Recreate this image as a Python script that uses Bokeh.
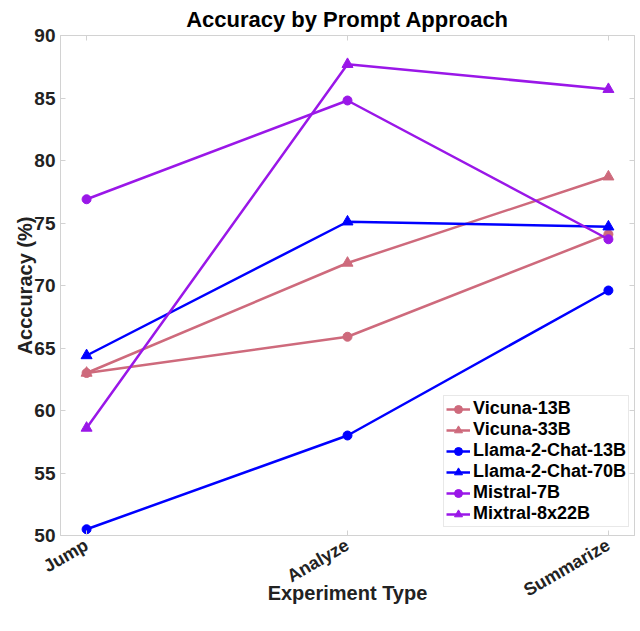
import math
from bokeh.plotting import figure
from bokeh.models import Range1d, FixedTicker, LinearAxis
from bokeh.embed import file_html
from bokeh.resources import INLINE

# ---- data ----
categories = ["Jump", "Analyze", "Summarize"]
y_ticks = [50, 55, 60, 65, 70, 75, 80, 85, 90]

vicuna_13b = [63.0, 65.9, 74.1]
vicuna_33b = [63.0, 71.8, 78.7]
llama_13b = [50.5, 58.0, 69.6]
llama_70b = [64.4, 75.1, 74.7]
mistral_7b = [76.9, 84.8, 73.7]
mixtral_8x22b = [58.6, 87.7, 85.7]

series_names = ["Vicuna-13B", "Vicuna-33B", "Llama-2-Chat-13B",
                "Llama-2-Chat-70B", "Mistral-7B", "Mixtral-8x22B"]
series_values = [vicuna_13b, vicuna_33b, llama_13b, llama_70b, mistral_7b, mixtral_8x22b]
series_colors = ["#CE6A7C", "#CE6A7C", "#0000FF", "#0000FF", "#9A17E8", "#9A17E8"]
series_markers = ["circle", "triangle", "circle", "triangle", "circle", "triangle"]

FONT = "Liberation Sans"
FRAME = "#d2d2d2"

x_idx = list(range(len(categories)))

p = figure(width=640, height=631, output_backend="svg", toolbar_location=None,
           x_range=Range1d(-0.1, 2.1), y_range=Range1d(50, 90),
           min_border_left=60, min_border_right=6, min_border_top=35, min_border_bottom=96,
           title="Accuracy by Prompt Approach")

p.title.align = "center"
p.title.text_font = FONT
p.title.text_font_style = "bold"
p.title.text_font_size = "22px"
p.title.text_color = "#000000"
p.title.standoff = 7

p.xgrid.visible = False
p.ygrid.visible = False
p.outline_line_color = FRAME
p.background_fill_color = "white"
p.border_fill_color = "white"

# x axis
p.xaxis.ticker = FixedTicker(ticks=x_idx)
p.xaxis.major_label_overrides = {i: c for i, c in zip(x_idx, categories)}
p.xaxis.major_label_orientation = math.radians(30)
p.xaxis.axis_label = "Experiment Type"
p.xaxis.axis_label_standoff = -30
p.xaxis.major_label_standoff = 8

# y axis
p.yaxis.ticker = FixedTicker(ticks=y_ticks)
p.yaxis.axis_label = "Acccuracy (%)"
p.yaxis.axis_label_standoff = -5
p.yaxis.major_label_standoff = 5

for ax in [p.xaxis[0], p.yaxis[0]]:
    ax.axis_line_color = FRAME
    ax.major_tick_line_color = FRAME
    ax.major_tick_in = 5
    ax.major_tick_out = 0
    ax.minor_tick_line_color = None
    ax.major_label_text_font = FONT
    ax.major_label_text_font_style = "bold"
    ax.major_label_text_color = "#222222"
    ax.axis_label_text_font = FONT
    ax.axis_label_text_font_style = "bold"
    ax.axis_label_text_color = "#222222"
p.xaxis.major_label_text_font_size = "18px"
p.yaxis.major_label_text_font_size = "19px"
p.xaxis.axis_label_text_font_size = "20px"
p.yaxis.axis_label_text_font_size = "20px"

# mirrored ticks (box)
top_ax = LinearAxis(ticker=FixedTicker(ticks=x_idx),
                    major_label_overrides={i: "" for i in x_idx})
right_ax = LinearAxis(ticker=FixedTicker(ticks=y_ticks),
                      major_label_overrides={t: "" for t in y_ticks})
for ax in [top_ax, right_ax]:
    ax.axis_line_color = FRAME
    ax.major_tick_line_color = FRAME
    ax.major_tick_in = 5
    ax.major_tick_out = 0
    ax.minor_tick_line_color = None
    ax.major_label_standoff = 0
p.add_layout(top_ax, "above")
p.add_layout(right_ax, "right")

for name, vals, col, mk in zip(series_names, series_values, series_colors, series_markers):
    p.line(x_idx, vals, line_color=col, line_width=2.5, legend_label=name)
    size = 9 if mk == "circle" else 11
    p.scatter(x_idx, vals, marker=mk, size=size, fill_color=col, line_color=col,
              legend_label=name)

lg = p.legend[0]
lg.location = (383, 8)
lg.margin = 0
lg.border_line_color = FRAME
lg.border_line_width = 1
lg.background_fill_color = "white"
lg.background_fill_alpha = 1.0
lg.label_text_font = FONT
lg.label_text_font_style = "bold"
lg.label_text_font_size = "18px"
lg.label_text_color = "#000000"
lg.glyph_width = 24
lg.glyph_height = 20
lg.label_height = 20
lg.label_standoff = 3
lg.spacing = 0
lg.padding = 2

open("out.html", "w").write(file_html(p, INLINE))
